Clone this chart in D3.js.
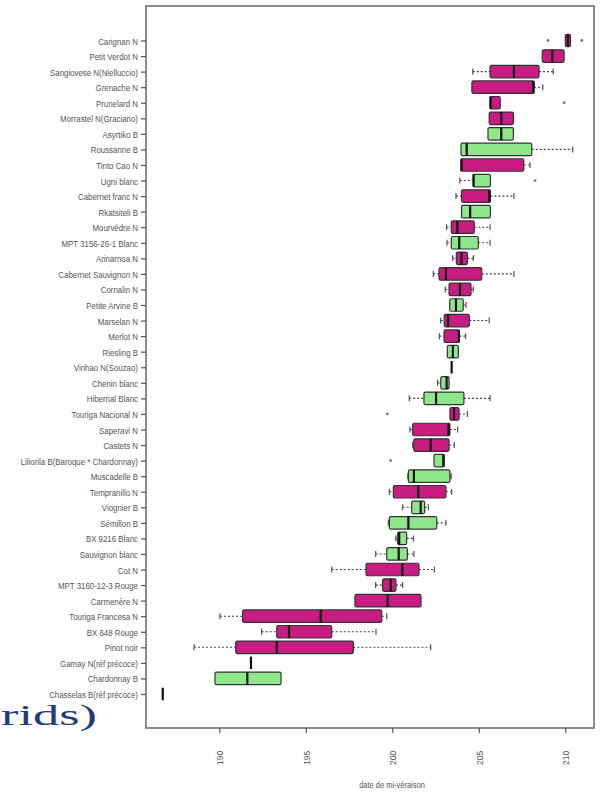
<!DOCTYPE html>
<html><head><meta charset="utf-8">
<script src="https://cdn.jsdelivr.net/npm/d3@7"></script>
<style>html,body{margin:0;padding:0;background:#fff;}svg{display:block;}</style>
</head><body>
<script>
const categories = ["Carignan N","Petit Verdot N","Sangiovese N(Nielluccio)","Grenache N","Prunelard N","Morrastel N(Graciano)","Asyrtiko B","Roussanne B","Tinto Cao N","Ugni blanc","Cabernet franc N","Rkatsiteli B","Mourvèdre N","MPT 3156-26-1 Blanc","Arinarnoa N","Cabernet Sauvignon N","Cornalin N","Petite Arvine B","Marselan N","Merlot N","Riesling B","Vinhao  N(Souzao)","Chenin blanc","Hibernal Blanc","Touriga Nacional N","Saperavi N","Castets N","Liliorila B(Baroque * Chardonnay)","Muscadelle B","Tempranillo N","Viognier B","Sémillon B","BX 9216 Blanc","Sauvignon blanc","Cot N","MPT 3160-12-3 Rouge","Carmenère N","Touriga Francesa N","BX 648 Rouge","Pinot noir","Gamay N(réf précoce)","Chardonnay B","Chasselas B(réf précoce)"];
const groups = ["N","N","N","N","N","N","B","B","N","B","N","B","N","B","N","N","N","B","N","N","B","N","B","B","N","N","N","B","B","N","B","B","B","B","N","N","N","N","N","N","N","B","B"];
const whiskerLow  = [210.0,208.67,204.65,204.6,205.65,205.6,205.53,203.97,203.97,203.9,203.68,204.0,203.14,203.16,203.49,202.37,203.06,203.32,202.8,202.72,203.18,203.43,202.62,200.98,203.33,201.02,201.18,202.41,200.9,199.83,200.6,199.77,200.2,199.04,196.5,199.04,197.84,190.04,192.45,188.54,191.83,189.75,186.73];
const q1          = [210.0,208.67,205.65,204.6,205.65,205.6,205.53,203.97,203.97,204.68,204.0,204.0,203.41,203.41,203.7,202.7,203.28,203.32,203.0,202.99,203.18,203.43,202.8,201.83,203.33,201.18,201.24,202.41,200.93,200.06,201.12,199.83,200.31,199.68,198.48,199.44,197.84,191.35,193.32,190.95,191.83,189.75,186.73];
const medians     = [210.15,209.25,207.03,208.15,205.68,206.3,206.3,204.3,204.0,204.7,205.6,204.5,203.76,203.87,204.0,203.1,203.91,203.68,203.22,203.85,203.5,203.43,203.14,202.53,203.57,203.25,202.22,202.95,201.25,201.5,201.64,200.93,200.4,200.37,200.58,199.91,199.73,195.86,194.03,193.32,191.83,191.62,186.73];
const q3          = [210.3,209.93,208.48,208.2,206.24,207.0,207.0,208.06,207.6,205.67,205.67,205.67,204.74,204.97,204.34,205.17,204.55,204.1,204.45,203.87,203.82,203.43,203.28,204.14,203.86,203.33,203.28,203.0,203.33,203.1,201.87,202.57,200.83,200.87,201.54,200.21,201.66,199.39,196.5,197.75,191.83,193.57,186.73];
const whiskerHigh = [210.3,209.93,209.3,208.7,206.24,207.0,207.0,210.43,207.96,205.67,207.03,205.67,205.65,205.65,204.68,207.03,204.68,204.26,205.6,204.24,203.82,203.43,203.28,205.65,204.34,203.78,203.58,203.0,203.4,203.43,202.08,203.1,201.22,201.25,202.43,200.6,201.66,199.68,199.06,202.22,191.83,193.57,186.73];
const outliers = [[209.0,210.95],[],[],[],[209.94],[],[],[],[],[208.25],[],[],[],[],[],[],[],[],[],[],[],[],[],[],[199.71],[],[],[199.9],[],[],[],[],[],[],[],[],[],[],[],[],[],[],[]];
const xTicks = [190,195,200,205,210];
const xTitle = "date de mi-véraison";
const captionText = "rids)";
const colours = {N:"#c81c82", B:"#8ee88a"};

const W = 600, H = 794;
const frame = {left:146, right:594, top:6, bottom:728};
const svg = d3.select("body").append("svg").attr("width",W).attr("height",H);
const labelFont = "'Liberation Sans','Arial',sans-serif";

const x = d3.scaleLinear().domain([190,210]).range([219.3,565.3]);
const y = d3.scalePoint().domain(categories).range([40.5,694]);
const bh = 12.5;

// frame
svg.append("rect").attr("x",frame.left).attr("y",frame.top)
  .attr("width",frame.right-frame.left).attr("height",frame.bottom-frame.top)
  .attr("fill","none").attr("stroke","#666").attr("stroke-width",1.5);

// left axis
const yAxis = svg.append("g").attr("transform",`translate(${frame.left},0)`)
  .call(d3.axisLeft(y).tickSize(5).tickPadding(0));
yAxis.select(".domain").remove();
yAxis.selectAll(".tick line").attr("stroke","#555").attr("stroke-width",1.2);
yAxis.selectAll(".tick text").attr("font-family",labelFont)
  .attr("font-size",9.5).attr("fill","#555").attr("x",0)
  .attr("transform","translate(-8,0.5) scale(0.83,1)");

// bottom axis
const xAxis = svg.append("g").attr("transform",`translate(0,${frame.bottom})`)
  .call(d3.axisBottom(x).tickValues(xTicks).tickSize(5).tickFormat(d3.format("d")));
xAxis.select(".domain").remove();
xAxis.selectAll(".tick line").attr("stroke","#555").attr("stroke-width",1.2);
xAxis.selectAll(".tick text").attr("font-family",labelFont)
  .attr("font-size",9.5).attr("fill","#555")
  .attr("transform","translate(0,30) rotate(-90) scale(0.9,1)").attr("dy","0.35em").attr("y",0).attr("x",0)
  .attr("text-anchor","middle");

svg.append("text").attr("x",392).attr("y",788).attr("text-anchor","middle")
  .attr("font-family",labelFont).attr("font-size",8.5).attr("transform","translate(392,0) scale(0.88,1) translate(-392,0)")
  .attr("fill","#555").text(xTitle);

// boxes
const g = svg.append("g");
categories.forEach((c,i)=>{
  const cy = y(c);
  const row = g.append("g");
  if (whiskerLow[i] < q1[i]) {
    row.append("line").attr("x1",x(whiskerLow[i])).attr("x2",x(q1[i])).attr("y1",cy).attr("y2",cy)
      .attr("stroke","#444").attr("stroke-width",1.1).attr("stroke-dasharray","2,2");
    row.append("line").attr("x1",x(whiskerLow[i])).attr("x2",x(whiskerLow[i])).attr("y1",cy-3).attr("y2",cy+3)
      .attr("stroke","#444").attr("stroke-width",1.1);
  }
  if (whiskerHigh[i] > q3[i]) {
    row.append("line").attr("x1",x(q3[i])).attr("x2",x(whiskerHigh[i])).attr("y1",cy).attr("y2",cy)
      .attr("stroke","#444").attr("stroke-width",1.1).attr("stroke-dasharray","2,2");
    row.append("line").attr("x1",x(whiskerHigh[i])).attr("x2",x(whiskerHigh[i])).attr("y1",cy-3).attr("y2",cy+3)
      .attr("stroke","#444").attr("stroke-width",1.1);
  }
  if (q3[i] > q1[i]) {
    row.append("rect").attr("x",x(q1[i])).attr("y",cy-bh/2).attr("width",x(q3[i])-x(q1[i])).attr("height",bh)
      .attr("rx",1.5).attr("fill",colours[groups[i]]).attr("stroke","#333").attr("stroke-width",1.2);
  }
  row.append("line").attr("x1",x(medians[i])).attr("x2",x(medians[i])).attr("y1",cy-bh/2).attr("y2",cy+bh/2)
    .attr("stroke","#111").attr("stroke-width",2.2);
  outliers[i].forEach(o=>{
    row.append("circle").attr("cx",x(o)).attr("cy",cy).attr("r",1.4).attr("fill","#777");
  });
});

// partial caption text at bottom-left
svg.append("text").attr("x",1).attr("y",725).attr("font-family","'Liberation Serif','DejaVu Serif',serif")
  .attr("font-size",29).attr("fill","#1f3d7a").attr("textLength",96).attr("lengthAdjust","spacingAndGlyphs")
  .text(captionText);
</script>
</body></html>
